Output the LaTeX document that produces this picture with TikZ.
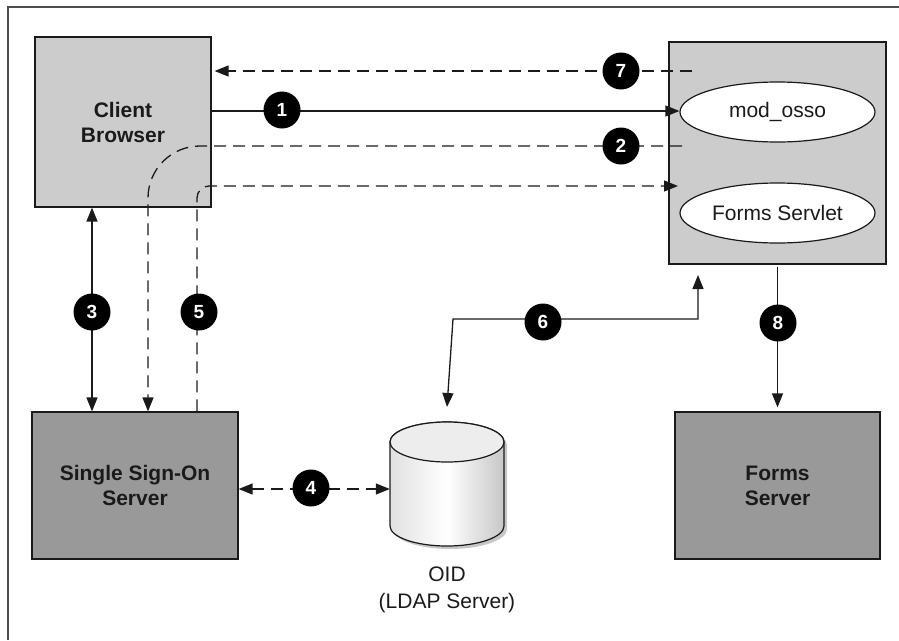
\documentclass[tikz,border=0pt]{standalone}
\usepackage{fontspec}
\setmainfont{Liberation Sans}
\usetikzlibrary{arrows.meta,shapes.geometric,calc}
\definecolor{lgray}{HTML}{CCCCCC}
\definecolor{dgray}{HTML}{999999}
\definecolor{ink}{HTML}{1A1A1A}
\tikzset{
  box/.style={draw=ink,line width=1.2pt,inner sep=0pt,font=\fontsize{21}{25}\selectfont\bfseries,text=ink,align=center},
  lightbox/.style={box,fill=lgray},
  darkbox/.style={box,fill=dgray},
  oval/.style={ellipse,draw=ink,line width=1.2pt,fill=white,minimum width=195pt,minimum height=60pt,inner sep=0pt,font=\fontsize{21}{25}\selectfont,text=ink},
  badge/.style={circle,fill=black,text=white,minimum size=37pt,inner sep=0pt,font=\fontsize{19}{19}\selectfont\bfseries},
  conn/.style={draw=ink,line width=1.3pt},
  dashconn/.style={conn,dash pattern=on 12pt off 7pt},
  tip/.style={-{Triangle[length=14pt,width=11pt]}},
  tips/.style={{Triangle[length=14pt,width=11pt]}-{Triangle[length=14pt,width=11pt]}}
}
\begin{document}
\begin{tikzpicture}[x=1pt,y=-1pt]
\useasboundingbox (0,0) rectangle (899,640);
% frame (top and left only)
\draw[line width=2pt,draw=black!70] (899,7) -- (8,7) -- (8,640);

% nodes
\node[lightbox,minimum width=176pt,minimum height=170pt] (client) at (123,122) {Client\\Browser};
\node[lightbox,minimum width=217pt,minimum height=222pt] (forms) at (777.5,153) {};
\node[oval] (osso) at (777.5,112) {mod\_osso};
\node[oval] (servlet) at (777.5,213) {Forms Servlet};
\node[darkbox,minimum width=206pt,minimum height=147pt] (sso) at (135,485.5) {Single Sign-On\\Server};
\node[darkbox,minimum width=205pt,minimum height=147pt] (fserver) at (777.5,485.5) {Forms\\Server};

% OID cylinder
\node[minimum width=114pt,minimum height=124pt,inner sep=0pt] (oid) at (447,484) {};
\fill[black!22] (393,445) -- (393,529) arc[start angle=180,end angle=360,x radius=57pt,y radius=20pt] -- (507,445) arc[start angle=0,end angle=180,x radius=57pt,y radius=20pt] -- cycle;
\path[left color=black!12,right color=black!22,middle color=white,draw=ink,line width=1.2pt]
  (390,442) -- (390,526) arc[start angle=180,end angle=360,x radius=57pt,y radius=20pt] -- (504,442) arc[start angle=0,end angle=180,x radius=57pt,y radius=20pt] -- cycle;
\draw[fill=black!7,draw=ink,line width=1.2pt] (447,442) ellipse[x radius=57pt,y radius=20pt];
\node[font=\fontsize{21}{27}\selectfont,text=ink,align=center,anchor=north] (oidlabel) at (447,563) {OID\\(LDAP Server)};

% connector end points
\coordinate (c7s) at (692,71);
\coordinate (c7e) at (client.east |- c7s);
\coordinate (c2s) at (682,146);
\coordinate (c2c) at (148,146);
\coordinate (c5s) at (197,186);
\coordinate (c5e) at (678,186);
\coordinate (c6a) at (698,275);
\coordinate (c6b) at (453,319);

% connectors
\draw[dashconn,tip] (c7s) -- ([xshift=3pt]c7e);
\draw[conn,tip] (client.east |- 0,111) -- (osso.west |- 0,111);
\draw[dashconn,tip,rounded corners=52pt] (c2s) -- (c2c) -- (sso.north -| c2c);
\draw[dashconn,tip,rounded corners=12pt] (sso.north -| c5s) -- (c5s) -- (c5e);
\draw[conn,tips] (client.south -| 92,0) -- (sso.north -| 92,0);
\draw[dashconn,tips] (sso.east |- 0,489) -- (oid.west |- 0,489);
\draw[conn,tips] (c6b -| oid.north) ++(0,88) -- (c6b) -- (c6b -| c6a) -- (c6a);
\draw[conn,tip,shorten >=4pt,shorten <=2pt] (forms.south) -- (fserver.north);

% badges
\node[badge] (b1) at (282,110) {1};
\node[badge] (b2) at (621,146) {2};
\node[badge] (b3) at (92,312) {3};
\node[badge] (b4) at (311,488) {4};
\node[badge] (b5) at (199,312) {5};
\node[badge] (b6) at (543,322) {6};
\node[badge] (b7) at (621,71) {7};
\node[badge] (b8) at (778,323) {8};
\end{tikzpicture}
\end{document}
